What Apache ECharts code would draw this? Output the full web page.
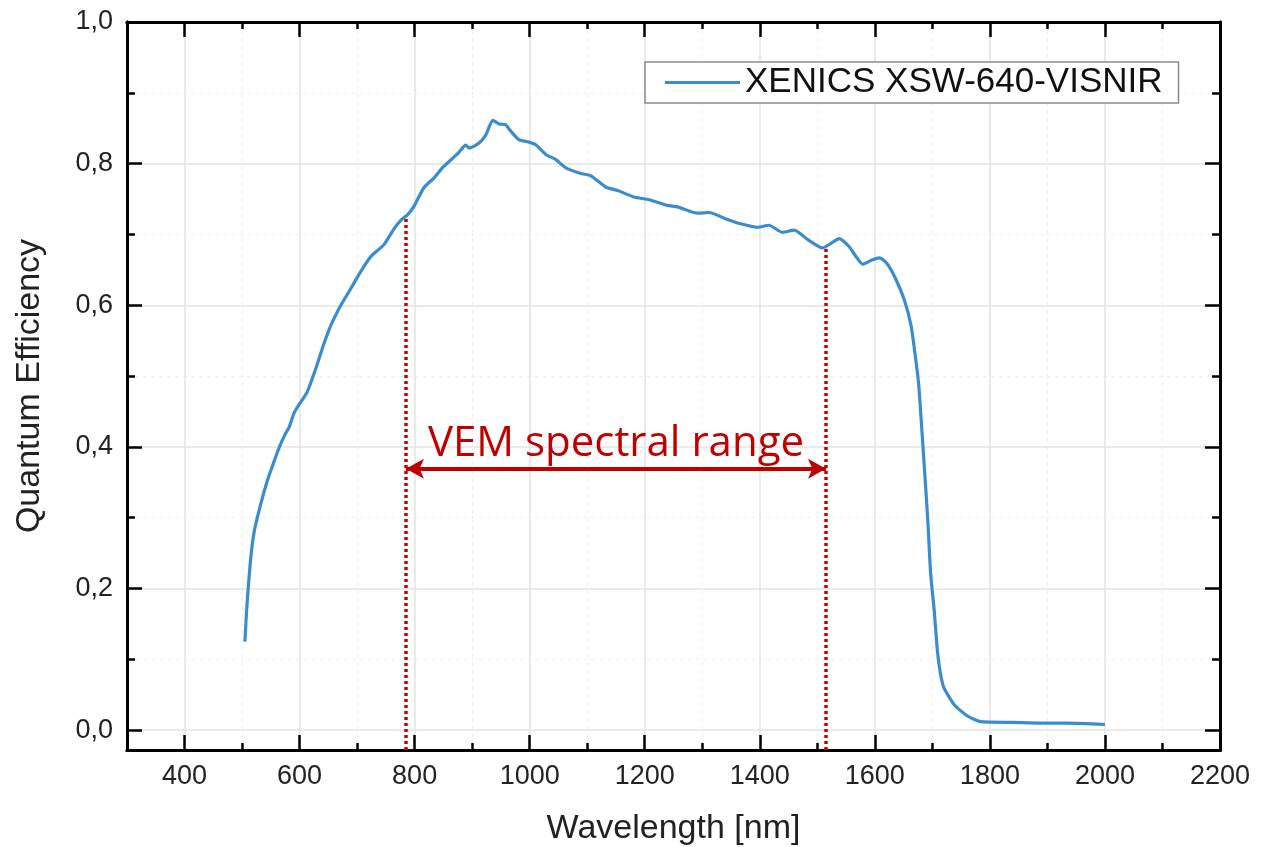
<!DOCTYPE html>
<html>
<head>
<meta charset="utf-8">
<title>Quantum Efficiency</title>
<script src="https://cdn.jsdelivr.net/npm/echarts@6/dist/echarts.min.js"></script>
<style>
  html, body { margin: 0; padding: 0; background: #fff; }
  #chart { width: 1262px; height: 847px; }
</style>
</head>
<body>
<div id="chart"></div>
<script>
// wavelength [nm] and quantum efficiency
const wavelength = [505, 508, 512, 516, 521, 528, 535, 545, 555, 565, 575, 582, 590, 600, 613, 630, 642, 654, 671, 685,
  700, 712, 724, 735, 747, 765, 776, 788, 799, 816, 834, 848, 860, 877, 889, 895, 912, 924, 936, 947,
  958, 967, 981, 996, 1010, 1028, 1045, 1063, 1089, 1106, 1132, 1153, 1181, 1208, 1239, 1257, 1292, 1312, 1338, 1367,
  1396, 1416, 1439, 1460, 1483, 1509, 1525, 1538, 1555, 1568, 1579, 1595, 1608, 1620, 1634, 1651, 1663, 1671, 1676, 1680,
  1686, 1692, 1697, 1703, 1709, 1714, 1720, 1738, 1761, 1784, 1842, 1889, 1935, 2000]
const qe = [0.125, 0.17, 0.214, 0.25, 0.28, 0.305, 0.327, 0.355, 0.378, 0.40, 0.418, 0.428, 0.447, 0.461, 0.477, 0.515, 0.545, 0.571, 0.599, 0.618,
  0.639, 0.655, 0.669, 0.677, 0.686, 0.709, 0.720, 0.728, 0.740, 0.766, 0.780, 0.794, 0.803, 0.816, 0.826, 0.822, 0.829, 0.841, 0.861, 0.856,
  0.855, 0.846, 0.834, 0.831, 0.827, 0.813, 0.806, 0.794, 0.786, 0.783, 0.767, 0.762, 0.753, 0.749, 0.741, 0.739, 0.730, 0.731, 0.723, 0.715,
  0.710, 0.713, 0.703, 0.706, 0.693, 0.681, 0.688, 0.694, 0.683, 0.668, 0.658, 0.664, 0.667, 0.660, 0.641, 0.608, 0.571, 0.524, 0.49, 0.445,
  0.372, 0.297, 0.221, 0.171, 0.110, 0.080, 0.060, 0.036, 0.020, 0.012, 0.011, 0.010, 0.010, 0.008]

// tick values
const xMajorTicks = [400, 600, 800, 1000, 1200, 1400, 1600, 1800, 2000, 2200]
const xMinorTicks = [500, 700, 900, 1100, 1300, 1500, 1700, 1900, 2100]
const yMajorTicks = [0, 0.2, 0.4, 0.6, 0.8, 1.0]
const yMinorTicks = [0.1, 0.3, 0.5, 0.7, 0.9]

// VEM spectral range annotation
const vemRange = [785, 1515]
const vemTop = [0.722, 0.682]
const arrowLevel = 0.369
const vemLabel = 'VEM spectral range'

const seriesName = 'XENICS XSW-640-VISNIR'

const myChart = echarts.init(document.getElementById('chart'))

const axisLine = { show: true, onZero: false, lineStyle: { color: '#000', width: 3 } }
const majorSplit = { show: true, lineStyle: { color: '#e3e3e3', width: 1.5 } }
const minorSplit = { show: true, lineStyle: { color: '#eeeeee', width: 1, type: [4, 4] } }
const tickStyle = { color: '#000', width: 2.5 }

function xAxisOf(pos, ticks, len, labels, split) {
  return {
    type: 'value', position: pos, min: 300, max: 2200,
    axisLine: axisLine,
    axisTick: { show: true, inside: true, length: len, customValues: ticks, lineStyle: tickStyle },
    axisLabel: labels
      ? {
          show: true, customValues: ticks, fontSize: 27, color: '#222', margin: 13, fontFamily: 'Liberation Sans',
          formatter: v => String(v)
        }
      : { show: false },
    splitLine: split,
    name: labels ? 'Wavelength [nm]' : '',
    nameLocation: 'middle',
    nameGap: 62,
    nameTextStyle: { fontSize: 34, color: '#222', fontFamily: 'Liberation Sans' }
  }
}

function yAxisOf(pos, ticks, len, labels, split) {
  return {
    type: 'value', position: pos, min: -0.028, max: 1.0,
    axisLine: axisLine,
    axisTick: { show: true, inside: true, length: len, customValues: ticks, lineStyle: tickStyle },
    axisLabel: labels
      ? {
          show: true, customValues: ticks, fontSize: 27, color: '#222', margin: 14, fontFamily: 'Liberation Sans',
          formatter: v => v.toFixed(1).replace('.', ',')
        }
      : { show: false },
    splitLine: split,
    name: labels ? 'Quantum Efficiency' : '',
    nameLocation: 'middle',
    nameGap: 80,
    nameTextStyle: { fontSize: 34, color: '#222', fontFamily: 'Liberation Sans' }
  }
}

const option = {
  animation: false,
  backgroundColor: '#fff',
  grid: { left: 127, right: 42, top: 22, bottom: 97, outerBoundsMode: 'none' },
  legend: {
    data: [seriesName],
    left: 645,
    top: 62,
    icon: 'rect',
    itemWidth: 75,
    itemHeight: 3,
    padding: [3, 16, 3, 20],
    borderColor: '#8a8a8a',
    borderWidth: 1.5,
    backgroundColor: '#fff',
    textStyle: { fontSize: 35, color: '#111', fontFamily: 'Liberation Sans' }
  },
  xAxis: [
    xAxisOf('bottom', xMinorTicks, 7, false, minorSplit),
    xAxisOf('bottom', xMajorTicks, 15, true, majorSplit),
    xAxisOf('top', xMinorTicks, 7, false, { show: false }),
    xAxisOf('top', xMajorTicks, 15, false, { show: false })
  ],
  yAxis: [
    yAxisOf('left', yMinorTicks, 8, false, minorSplit),
    yAxisOf('left', yMajorTicks, 15, true, majorSplit),
    yAxisOf('right', yMinorTicks, 8, false, { show: false }),
    yAxisOf('right', yMajorTicks, 15, false, { show: false })
  ],
  series: [
    {
      name: seriesName,
      type: 'line',
      xAxisIndex: 1,
      yAxisIndex: 1,
      showSymbol: false,
      smooth: 0.2,
      z: 3,
      color: '#3b8ccd',
      lineStyle: { color: '#3b8ccd', width: 3.2 },
      data: wavelength.map((w, i) => [w, qe[i]])
    },
    {
      // dotted range limits
      name: 'limits',
      type: 'line',
      xAxisIndex: 1,
      yAxisIndex: 1,
      data: [],
      markLine: {
        silent: true,
        symbol: 'none',
        label: { show: false },
        lineStyle: { color: '#cc0000', width: 3.5, type: [3, 3] },
        data: vemRange.map((w, i) => [{ coord: [w, -0.028] }, { coord: [w, vemTop[i]] }])
      }
    },
    {
      // double arrow with label
      name: 'arrow',
      type: 'line',
      xAxisIndex: 1,
      yAxisIndex: 1,
      data: [],
      markLine: {
        silent: true,
        symbol: ['arrow', 'arrow'],
        symbolSize: [15, 18],
        lineStyle: { color: '#c00000', width: 4, type: 'solid' },
        label: {
          show: true,
          position: 'insideMiddleTop',
          distance: 4,
          formatter: vemLabel,
          fontSize: 42,
          color: '#c00000',
          fontFamily: 'Open Sans'
        },
        data: [[{ coord: [vemRange[0], arrowLevel] }, { coord: [vemRange[1], arrowLevel] }]]
      }
    }
  ]
}
myChart.setOption(option)
window.addEventListener('resize', function() {
  myChart.resize()
})
</script>
</body>
</html>
